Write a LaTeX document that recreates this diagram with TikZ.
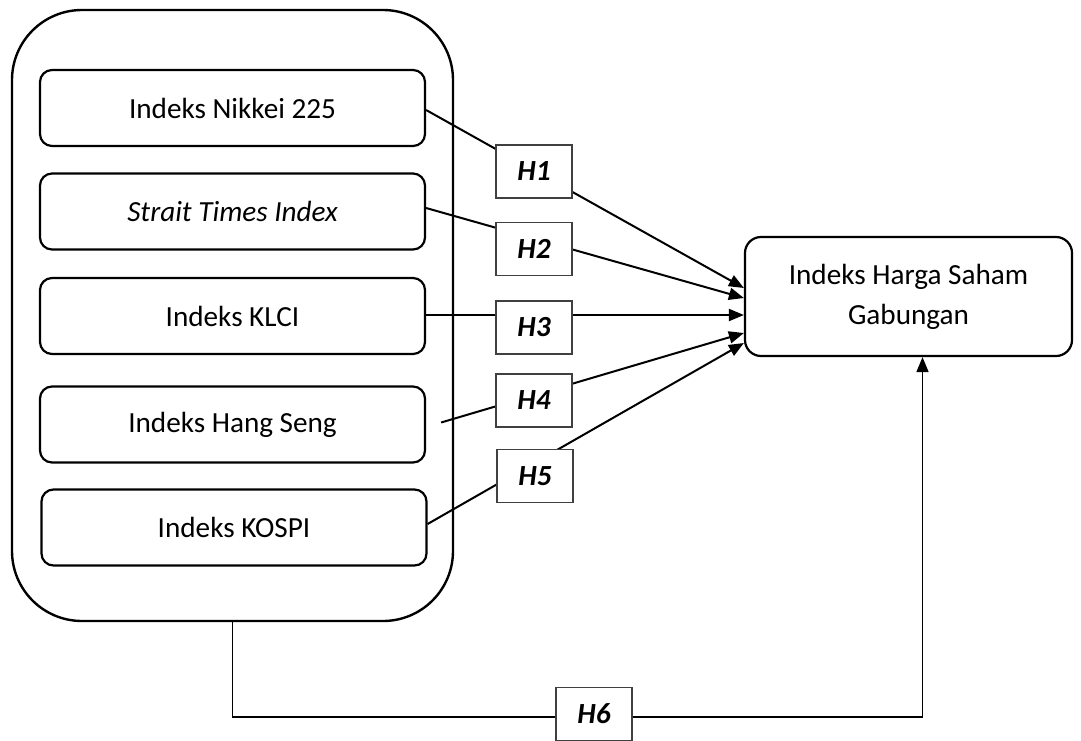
\documentclass[tikz,border=0pt]{standalone}
\usepackage{fontspec}
\setmainfont{Carlito}
\usetikzlibrary{arrows.meta}

\begin{document}
\begin{tikzpicture}[x=0.5pt, y=-0.5pt,
  idx/.style={draw, line width=1.1pt, rounded corners=6pt, minimum width=192.5pt,
    minimum height=38pt, font=\fontsize{14.6}{17}\selectfont},
  hyp/.style={draw=black!75, line width=0.6pt, fill=white, minimum width=38pt,
    minimum height=26.5pt, font=\fontsize{14.6}{17}\selectfont\bfseries\itshape},
  link/.style={line width=1pt}]
  \useasboundingbox (0,0) rectangle (1081,740);
  \node[draw, line width=1.2pt, rounded corners=35pt, minimum width=220.5pt,
    minimum height=305.5pt] (grp) at (232.5,315.5) {};
  \node[idx] (n1) at (232.5,108) {Indeks Nikkei 225};
  \node[idx] (n2) at (232.5,211.5) {\itshape Strait Times Index};
  \node[idx] (n3) at (232.5,316) {Indeks KLCI};
  \node[idx] (n4) at (232.5,424.5) {Indeks Hang Seng};
  \node[idx] (n5) at (234,527.5) {Indeks KOSPI};
  \node[draw, line width=1.1pt, rounded corners=8pt, minimum width=163.5pt,
    minimum height=59.5pt, align=center, font=\fontsize{14.6}{20}\selectfont]
    (ihsg) at (908.5,296.5) {Indeks Harga Saham\\Gabungan};
  % ends of the arrows on the left side
  \coordinate (t1) at ([yshift=4.25pt]ihsg.west);
  \coordinate (t2) at ([yshift=-0.75pt]ihsg.west);
  \coordinate (t3) at ([yshift=-9.25pt]ihsg.west);
  \coordinate (t4) at ([yshift=-18.25pt]ihsg.west);
  \coordinate (t5) at ([yshift=-23.25pt]ihsg.west);
  \coordinate (s4) at ([xshift=7.5pt, yshift=1pt]n4.east);
  \coordinate (c6) at ([xshift=7pt]ihsg.south);
  \path[link, -{Triangle[length=7.5pt, width=6pt]}]
    ([yshift=-1pt]n1.east) edge (t1)
    ([yshift=1.75pt]n2.east) edge (t2)
    ([yshift=0.5pt]n3.east) edge (t3)
    (s4) edge (t4)
    ([yshift=1.75pt]n5.east) edge (t5);
  \draw[line width=0.8pt, -{Triangle[length=7.5pt, width=6pt]}]
    (grp.south) |- (594,717) -| (c6);
  \node[hyp] (h1) at (534,171.5) {H1};
  \node[hyp] (h2) at (534,249) {H2};
  \node[hyp] (h3) at (534,327.5) {H3};
  \node[hyp] (h4) at (534,400.5) {H4};
  \node[hyp] (h5) at (535,476) {H5};
  \node[hyp] (h6) at (594,714) {H6};
\end{tikzpicture}
\end{document}
